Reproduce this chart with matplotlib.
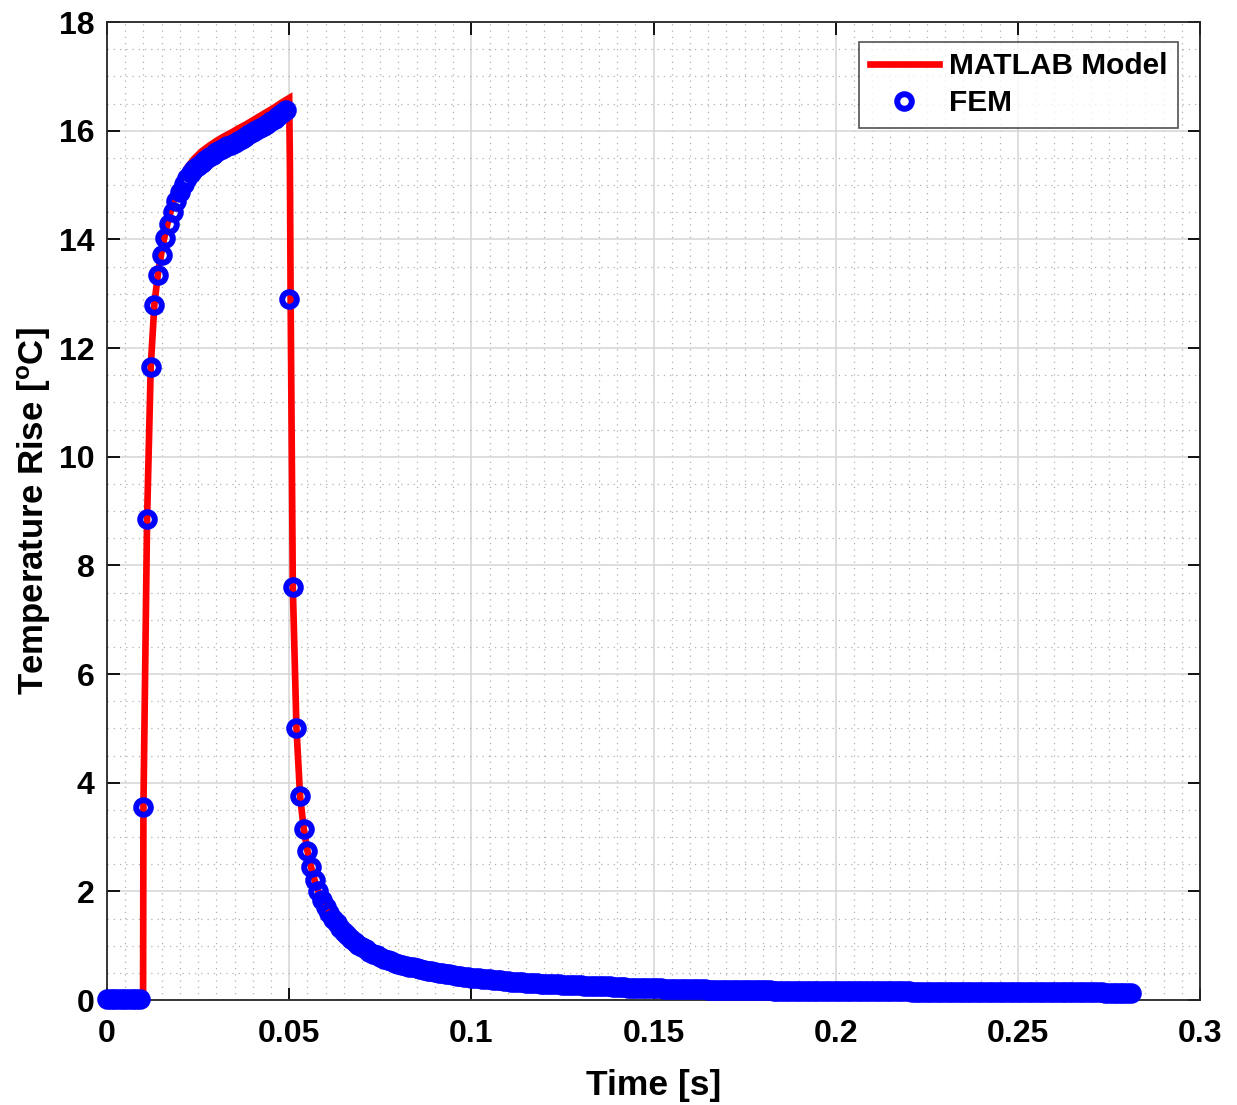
import numpy as np
import matplotlib
matplotlib.use("Agg")
import matplotlib.pyplot as plt
from matplotlib.ticker import MultipleLocator

# ---------------- data ----------------
# FEM results sampled every 1 ms from t = 0 s
fem_t0 = 0.0
fem_dt = 0.001
fem_temp = [
    0.02, 0.02, 0.02, 0.02, 0.02, 0.02, 0.02, 0.02, 0.02, 0.02,          # 0.000-0.009
    3.55, 8.85, 11.65, 12.80, 13.35, 13.72, 14.03, 14.28, 14.50, 14.70,  # 0.010-0.019
    14.88, 15.02, 15.13, 15.22, 15.29, 15.35, 15.41, 15.46, 15.51, 15.56,  # 0.020-0.029
    15.60, 15.64, 15.68, 15.71, 15.74, 15.78, 15.81, 15.85, 15.89, 15.93,  # 0.030-0.039
    15.97, 16.01, 16.05, 16.09, 16.13, 16.17, 16.22, 16.27, 16.32, 16.38,  # 0.040-0.049
    12.90, 7.60, 5.00, 3.75, 3.15, 2.75, 2.45, 2.20, 2.00, 1.84,           # 0.050-0.059
    1.71, 1.60, 1.50, 1.41, 1.33, 1.26, 1.19, 1.13, 1.07, 1.02,            # 0.060-0.069
    0.97, 0.93, 0.89, 0.85, 0.82, 0.79, 0.76, 0.74, 0.71, 0.69,            # 0.070-0.079
    0.67, 0.65, 0.63, 0.61, 0.60, 0.58, 0.57, 0.55, 0.54, 0.53,            # 0.080-0.089
    0.51, 0.50, 0.49, 0.48, 0.47, 0.46, 0.45, 0.44, 0.43, 0.42,            # 0.090-0.099
    0.41, 0.40, 0.40, 0.39, 0.38, 0.38, 0.37, 0.36, 0.36, 0.35,            # 0.100-0.109
    0.35, 0.34, 0.34, 0.33, 0.33, 0.32, 0.32, 0.31, 0.31, 0.30,            # 0.110-0.119
    0.30, 0.30, 0.29, 0.29, 0.29, 0.28, 0.28, 0.28, 0.27, 0.27,            # 0.120-0.129
    0.27, 0.26, 0.26, 0.26, 0.26, 0.25, 0.25, 0.25, 0.25, 0.24,            # 0.130-0.139
    0.24, 0.24, 0.24, 0.23, 0.23, 0.23, 0.23, 0.23, 0.22, 0.22,            # 0.140-0.149
    0.22, 0.22, 0.22, 0.21, 0.21, 0.21, 0.21, 0.21, 0.21, 0.20,            # 0.150-0.159
    0.20, 0.20, 0.20, 0.20, 0.20, 0.19, 0.19, 0.19, 0.19, 0.19,            # 0.160-0.169
    0.19, 0.19, 0.19, 0.18, 0.18, 0.18, 0.18, 0.18, 0.18, 0.18,            # 0.170-0.179
    0.18, 0.18, 0.18, 0.17, 0.17, 0.17, 0.17, 0.17, 0.17, 0.17,            # 0.180-0.189
    0.17, 0.17, 0.17, 0.17, 0.17, 0.17, 0.17, 0.17, 0.17, 0.17,            # 0.190-0.199
    0.17, 0.17, 0.17, 0.16, 0.16, 0.16, 0.16, 0.16, 0.16, 0.16,            # 0.200-0.209
    0.16, 0.16, 0.16, 0.16, 0.16, 0.16, 0.16, 0.16, 0.16, 0.16,            # 0.210-0.219
    0.16, 0.15, 0.15, 0.15, 0.15, 0.15, 0.15, 0.15, 0.15, 0.15,            # 0.220-0.229
    0.15, 0.15, 0.15, 0.15, 0.15, 0.15, 0.15, 0.15, 0.15, 0.15,            # 0.230-0.239
    0.15, 0.15, 0.15, 0.15, 0.15, 0.15, 0.14, 0.14, 0.14, 0.14,            # 0.240-0.249
    0.14, 0.14, 0.14, 0.14, 0.14, 0.14, 0.14, 0.14, 0.14, 0.14,            # 0.250-0.259
    0.14, 0.14, 0.14, 0.14, 0.14, 0.14, 0.14, 0.14, 0.14, 0.14,            # 0.260-0.269
    0.14, 0.14, 0.14, 0.14, 0.13, 0.13, 0.13, 0.13, 0.13, 0.13,            # 0.270-0.279
    0.13, 0.13,                                                            # 0.280-0.281
]
fem_time = fem_t0 + fem_dt * np.arange(len(fem_temp))

# MATLAB model curve
model_time = [0.0, 0.0099, 0.010, 0.011, 0.012, 0.013, 0.014, 0.015, 0.016, 0.017,
              0.018, 0.019, 0.020, 0.022, 0.024, 0.026, 0.028, 0.030, 0.032, 0.034,
              0.036, 0.038, 0.040, 0.042, 0.044, 0.046, 0.048, 0.050, 0.0502, 0.0504,
              0.051, 0.052, 0.053, 0.054, 0.055, 0.056, 0.057, 0.058, 0.060, 0.062,
              0.065, 0.070, 0.080, 0.090, 0.100, 0.120, 0.150, 0.200, 0.250, 0.280]
model_temp = [0.0, 0.0, 3.55, 8.85, 11.65, 12.80, 13.38, 13.78, 14.12, 14.40,
              14.64, 14.86, 15.05, 15.32, 15.49, 15.62, 15.72, 15.81, 15.89, 15.96,
              16.04, 16.11, 16.19, 16.27, 16.35, 16.43, 16.52, 16.60, 15.40, 12.90,
              7.60, 5.00, 3.75, 3.15, 2.75, 2.45, 2.20, 2.00, 1.71, 1.50,
              1.26, 0.97, 0.67, 0.51, 0.41, 0.30, 0.22, 0.17, 0.14, 0.13]

x_ticks = [0, 0.05, 0.1, 0.15, 0.2, 0.25, 0.3]
x_tick_labels = ["0", "0.05", "0.1", "0.15", "0.2", "0.25", "0.3"]
y_ticks = [0, 2, 4, 6, 8, 10, 12, 14, 16, 18]

# ---------------- style ----------------
plt.rcParams['font.family'] = ['Liberation Sans', 'DejaVu Sans']
plt.rcParams['font.weight'] = 'bold'
plt.rcParams['mathtext.fontset'] = 'custom'
plt.rcParams['mathtext.rm'] = 'Liberation Sans:bold'
plt.rcParams['mathtext.bf'] = 'Liberation Sans:bold'
plt.rcParams['mathtext.it'] = 'Liberation Sans:bold'

fig = plt.figure(figsize=(12.37, 11.05), dpi=100)
ax = fig.add_axes([107 / 1237, 1 - 1000 / 1105, (1200 - 107) / 1237, (1000 - 22) / 1105])

ax.plot(model_time, model_temp, color='#ff0000', lw=4.8, solid_joinstyle='miter',
        label='MATLAB Model', zorder=3)
ax.plot(fem_time, fem_temp, linestyle='none', marker='o', markersize=10.5,
        markerfacecolor='none', markeredgecolor='#0000ff', markeredgewidth=4.3,
        label='FEM', zorder=4, clip_on=False)

ax.set_xlim(0, 0.3)
ax.set_ylim(0, 18)
ax.set_xticks(x_ticks)
ax.set_xticklabels(x_tick_labels)
ax.set_yticks(y_ticks)
ax.xaxis.set_minor_locator(MultipleLocator(0.005))
ax.yaxis.set_minor_locator(MultipleLocator(0.5))

ax.grid(which='major', color='#d4d4d4', lw=1.1, ls='-', zorder=0)
ax.grid(which='minor', color='#b0b0b0', lw=0.9, ls=(0, (1, 4)), zorder=0)
ax.set_axisbelow(True)

ax.tick_params(which='major', direction='in', length=9, width=1.3, labelsize=23,
               top=True, right=True, colors='#000000')
ax.tick_params(axis='x', which='major', pad=14)
ax.tick_params(axis='y', which='major', pad=9)
ax.tick_params(which='minor', length=0, top=True, right=True)
for lab in ax.get_xticklabels() + ax.get_yticklabels():
    lab.set_fontweight('bold')
for sp in ax.spines.values():
    sp.set_color('#262626')
    sp.set_linewidth(1.3)

ax.set_xlabel('Time [s]', fontsize=25.5, fontweight='bold', labelpad=14)
ax.set_ylabel(r'Temperature Rise [$^{\mathbf{o}}$C]', fontsize=25, fontweight='bold', labelpad=4)

leg = ax.legend(loc='upper right', bbox_to_anchor=(1 - 22 / 1093, 1 - 20 / 978),
                fontsize=21.5, frameon=True, fancybox=False, borderpad=0.35,
                handlelength=2.3, handletextpad=0.35, labelspacing=0.3,
                borderaxespad=0)
leg.get_frame().set_edgecolor('#262626')
leg.get_frame().set_linewidth(1.2)
for t in leg.get_texts():
    t.set_fontweight('bold')

fig.savefig('out.png', dpi=100)
